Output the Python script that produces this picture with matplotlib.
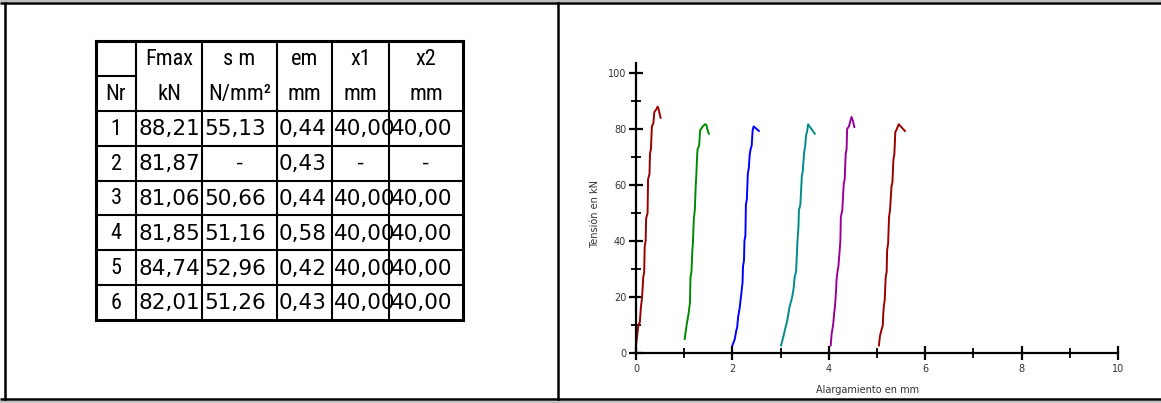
import matplotlib
matplotlib.use("Agg")
import matplotlib.pyplot as plt
from matplotlib.patches import Rectangle
from matplotlib import font_manager

# table contents
col_head1 = ["", "Fmax", "s m", "em", "x1", "x2"]
col_head2 = ["Nr", "kN", "N/mm²", "mm", "mm", "mm"]
row_nr = ["1", "2", "3", "4", "5", "6"]
fmax = ["88,21", "81,87", "81,06", "81,85", "84,74", "82,01"]
sigma_m = ["55,13", "-", "50,66", "51,16", "52,96", "51,26"]
eps_m = ["0,44", "0,43", "0,44", "0,58", "0,42", "0,43"]
x1 = ["40,00", "-", "40,00", "40,00", "40,00", "40,00"]
x2 = ["40,00", "-", "40,00", "40,00", "40,00", "40,00"]

# load / elongation curves (mm, kN)
c1x = [0.00, 0.03, 0.05, 0.08, 0.10, 0.12, 0.13, 0.15, 0.17, 0.18, 0.20, 0.21, 0.24, 0.25, 0.28, 0.29, 0.31, 0.33, 0.36, 0.38, 0.42, 0.45, 0.47, 0.51]
c1y = [2.5, 7, 10, 11, 16, 19, 21, 27, 29, 38, 40, 48, 50, 62, 64, 71, 73, 81, 82, 86, 87, 88, 87, 84]
c2x = [1.01, 1.05, 1.09, 1.12, 1.13, 1.15, 1.17, 1.18, 1.20, 1.22, 1.24, 1.25, 1.27, 1.28, 1.31, 1.33, 1.35, 1.38, 1.43, 1.46, 1.48, 1.51]
c2y = [5, 10, 14, 18, 27, 29, 37, 39, 48, 51, 60, 63, 71, 73, 74, 79.5, 80, 80.8, 81.7, 81.5, 80, 78.3]
c3x = [2.00, 2.05, 2.08, 2.10, 2.12, 2.15, 2.17, 2.19, 2.21, 2.22, 2.24, 2.25, 2.27, 2.28, 2.30, 2.32, 2.34, 2.36, 2.38, 2.40, 2.42, 2.44, 2.47, 2.55]
c3y = [2.7, 5, 8, 9.3, 13, 16, 19, 22, 25, 31, 33, 40, 42, 53, 55, 64, 66, 71, 73, 74, 79.5, 80.9, 80.5, 79.3]
c4x = [3.01, 3.06, 3.10, 3.14, 3.18, 3.21, 3.24, 3.27, 3.29, 3.32, 3.34, 3.35, 3.37, 3.38, 3.41, 3.44, 3.46, 3.49, 3.51, 3.53, 3.55, 3.57, 3.64, 3.71]
c4y = [2.7, 6, 9, 11.7, 16, 18, 20, 23, 27, 29, 36, 40, 45, 51, 53, 63, 65, 72, 74, 78, 79, 81.7, 80, 78.3]
c5x = [4.04, 4.05, 4.06, 4.09, 4.11, 4.13, 4.15, 4.16, 4.18, 4.20, 4.22, 4.24, 4.25, 4.28, 4.31, 4.33, 4.35, 4.37, 4.38, 4.42, 4.47, 4.50, 4.53]
c5y = [2.7, 5, 7, 10, 14, 17, 22, 26, 29, 31, 35.5, 40, 48.6, 51, 60.5, 62, 71, 73, 80, 81, 84.3, 83, 80.7]
c6x = [5.04, 5.06, 5.09, 5.12, 5.13, 5.14, 5.16, 5.18, 5.20, 5.21, 5.23, 5.25, 5.27, 5.30, 5.32, 5.34, 5.36, 5.37, 5.38, 5.40, 5.45, 5.58]
c6y = [2.7, 6, 8, 9.9, 14, 16.4, 19, 27, 29, 36.7, 39, 48.6, 51, 59.3, 61, 69, 71, 74.8, 79, 79.5, 81.7, 79.3]
curves_x = [c1x, c2x, c3x, c4x, c5x, c6x]
curves_y = [c1y, c2y, c3y, c4y, c5y, c6y]
curve_colors = ["#990000", "#008a00", "#0000ff", "#008b8b", "#990099", "#990000"]

# pick a condensed face if the system has one
installed = {f.name for f in font_manager.fontManager.ttflist}
narrow = [f for f in ["Liberation Sans Narrow", "DejaVu Sans Condensed", "Roboto Condensed"]
          if f in installed]
narrow = narrow[:1] + ["Liberation Sans"]
narrow_size = 16 if narrow[0] != "Liberation Sans" else 14.5

W, H = 1161, 403
fig = plt.figure(figsize=(W / 100, H / 100), dpi=100)

# overlay in pixel coordinates for frame and table
ov = fig.add_axes([0, 0, 1, 1])
ov.set_xlim(0, W)
ov.set_ylim(H, 0)
ov.axis("off")

ov.add_patch(Rectangle((0, 0), W, 2, color="#c0c0c0", lw=0))
ov.add_patch(Rectangle((0, 400.5), W, 3, color="#c0c0c0", lw=0))
ov.plot([0, W], [3, 3], color="black", lw=1.8, solid_capstyle="butt")
ov.plot([0, W], [399, 399], color="black", lw=1.8, solid_capstyle="butt")
ov.plot([5.2, 5.2], [3, 399], color="black", lw=1.8)
ov.plot([557.5, 557.5], [3, 399], color="black", lw=1.8)

# table geometry (pixels)
col_edges = [96, 136, 202, 277, 332, 389, 463]
top, head_mid, head_bot = 41, 76, 111
row_h = 34.8
n_rows = len(row_nr)
bottom = head_bot + n_rows * row_h

for xe in col_edges:
    lw = 2.2 if xe in (col_edges[0], col_edges[-1]) else 1.5
    ov.plot([xe, xe], [top, bottom], color="black", lw=lw, solid_capstyle="projecting")
ov.plot([col_edges[0], col_edges[-1]], [top, top], color="black", lw=2.2, solid_capstyle="projecting")
ov.plot([col_edges[0], col_edges[-1]], [bottom, bottom], color="black", lw=2.2, solid_capstyle="projecting")
ov.plot([col_edges[0], col_edges[1]], [head_mid, head_mid], color="black", lw=1.5)
for i in range(n_rows):
    yl = head_bot + i * row_h
    ov.plot([col_edges[0], col_edges[-1]], [yl, yl], color="black", lw=1.5)

centers = [(col_edges[k] + col_edges[k + 1]) / 2 for k in range(6)]
for k in range(6):
    ov.text(centers[k], (top + head_mid) / 2 + 1, col_head1[k], family=narrow, fontsize=narrow_size,
            ha="center", va="center")
    ov.text(centers[k], (head_mid + head_bot) / 2 + 1, col_head2[k], family=narrow, fontsize=narrow_size,
            ha="center", va="center")

cols = [fmax, sigma_m, eps_m, x1, x2]
for i in range(n_rows):
    yc = head_bot + (i + 0.5) * row_h + 1
    ov.text(centers[0], yc, row_nr[i], family=narrow, fontsize=narrow_size, ha="center", va="center")
    for k, vals in enumerate(cols):
        v = vals[i]
        if v == "-":
            ov.text(centers[k + 1], yc, v, family="Liberation Sans", fontsize=16,
                    ha="center", va="center")
        else:
            ov.text(col_edges[k + 1] + 2, yc, v, family="DejaVu Sans", fontsize=15.5,
                    ha="left", va="center")

# chart
x0, x1p = 636, 1118
y0, y1p = 353, 63
ax = fig.add_axes([x0 / W, 1 - y0 / H, (x1p - x0) / W, (y0 - y1p) / H])
ax.set_facecolor("none")
for cx, cy, cc in zip(curves_x, curves_y, curve_colors):
    ax.plot(cx, cy, color=cc, lw=1.4)
ax.set_xlim(0, 10)
ax.set_ylim(0, 100 * (y0 - y1p) / (y0 - 73))
ax.spines["top"].set_visible(False)
ax.spines["right"].set_visible(False)
ax.spines["left"].set_linewidth(1.6)
ax.spines["bottom"].set_linewidth(1.6)
ax.set_xticks([0, 2, 4, 6, 8, 10])
ax.set_xticks([1, 3, 5, 7, 9], minor=True)
ax.set_yticks([0, 20, 40, 60, 80, 100])
ax.set_yticks([10, 30, 50, 70, 90], minor=True)
ax.tick_params(which="major", direction="inout", length=10, width=1.6, labelsize=7,
               labelcolor="#333333")
ax.tick_params(which="minor", direction="inout", length=7, width=1.3)
ax.tick_params(axis="x", which="major", pad=3)
ax.tick_params(axis="y", which="major", pad=2)
for sp in ax.spines.values():
    sp.set_clip_on(False)
ax.set_xlabel("Alargamiento en mm", fontsize=7, color="#333333")
ax.set_ylabel("Tensión en kN", fontsize=7, color="#333333")
ax.xaxis.set_label_coords(0.481, -0.11)
ax.yaxis.set_label_coords(-0.075, 0.48)

fig.savefig("out.png", dpi=100)
